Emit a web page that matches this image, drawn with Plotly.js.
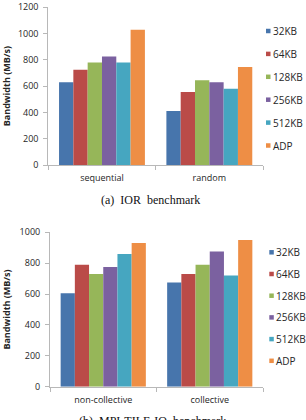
<!DOCTYPE html>
<html>
<head>
<meta charset="utf-8">
<script src="https://cdn.plot.ly/plotly-3.0.1.min.js"></script>
<style>
  html, body { margin: 0; padding: 0; background: #fff; }
  #fig { width: 306px; height: 420px; }
</style>
</head>
<body>
<div id="fig"></div>
<script>
// Block-size series shared by both benchmarks
const seriesNames = ['32KB', '64KB', '128KB', '256KB', '512KB', 'ADP'];
const seriesColors = ['#4775AC', '#BA4B48', '#96B659', '#7B61A0', '#46A6C0', '#EE8E45'];

// (a) IOR benchmark, bandwidth in MB/s
const iorCategories = ['sequential', 'random'];
const ior32KB  = [630, 410];
const ior64KB  = [725, 555];
const ior128KB = [780, 645];
const ior256KB = [825, 630];
const ior512KB = [780, 580];
const iorADP   = [1030, 745];
const iorTicks = [0, 200, 400, 600, 800, 1000, 1200];

// (b) MPI-TILE-IO benchmark, bandwidth in MB/s
const tileCategories = ['non-collective', 'collective'];
const tile32KB  = [605, 675];
const tile64KB  = [790, 730];
const tile128KB = [730, 790];
const tile256KB = [775, 875];
const tile512KB = [860, 720];
const tileADP   = [930, 950];
const tileTicks = [0, 200, 400, 600, 800, 1000];

const W = 306, H = 420;
const px = v => v / W;          // pixel column -> paper x
const py = v => 1 - v / H;      // pixel row -> paper y

const iorSeries = [ior32KB, ior64KB, ior128KB, ior256KB, ior512KB, iorADP];
const tileSeries = [tile32KB, tile64KB, tile128KB, tile256KB, tile512KB, tileADP];

const traces = [];
seriesNames.forEach((name, i) => {
  traces.push({
    type: 'bar', name: name, x: iorCategories, y: iorSeries[i],
    xaxis: 'x', yaxis: 'y', marker: { color: seriesColors[i] },
    showlegend: false, hoverinfo: 'skip'
  });
  traces.push({
    type: 'bar', name: name, x: tileCategories, y: tileSeries[i],
    xaxis: 'x2', yaxis: 'y2', marker: { color: seriesColors[i] },
    showlegend: false, hoverinfo: 'skip'
  });
});

const axisGrey = '#b8b8b8';
const textColor = '#262626';
const tickFont = { family: 'Open Sans', size: 9, color: textColor };

function xAxis(domain, anchor, cats) {
  return {
    domain: domain, anchor: anchor, type: 'category',
    categoryarray: cats, range: [-0.5, cats.length - 0.5],
    showline: true, linecolor: axisGrey, linewidth: 1,
    ticks: 'outside', tickson: 'boundaries', ticklen: 4, tickcolor: axisGrey,
    ticklabelstandoff: 4,
    showgrid: false, zeroline: false, tickfont: tickFont, fixedrange: true
  };
}
function yAxis(domain, anchor, ticks) {
  return {
    domain: domain, anchor: anchor,
    range: [ticks[0], ticks[ticks.length - 1]],
    tickmode: 'array', tickvals: ticks, ticktext: ticks.map(String),
    showline: true, linecolor: axisGrey, linewidth: 1,
    ticks: 'outside', ticklen: 4, tickcolor: axisGrey,
    ticklabelstandoff: 3,
    showgrid: false, zeroline: false, tickfont: tickFont, fixedrange: true,
    title: { text: '<b>Bandwidth (MB/s)</b>', standoff: 14,
             font: { family: 'Open Sans', size: 9, color: textColor } }
  };
}

// Legend keys and captions drawn in paper space
const shapes = [];
const annotations = [];
function legendBlock(keyLeft, textLeft, firstRow, step) {
  seriesNames.forEach((name, i) => {
    const cy = firstRow + i * step;
    shapes.push({
      type: 'rect', xref: 'paper', yref: 'paper',
      x0: px(keyLeft), x1: px(keyLeft + 4.5), y0: py(cy + 2.25), y1: py(cy - 2.25),
      fillcolor: seriesColors[i], line: { width: 0 }
    });
    annotations.push({
      xref: 'paper', yref: 'paper', x: px(textLeft), y: py(cy),
      xanchor: 'left', yanchor: 'middle', showarrow: false,
      text: name, font: { family: 'Open Sans', size: 10, color: textColor }
    });
  });
}
legendBlock(266, 270.5, 31, 22.9);
legendBlock(269.3, 274, 252.3, 21.7);

const captionFont = { family: 'Liberation Serif', size: 12, color: '#111' };
annotations.push({
  xref: 'paper', yref: 'paper', x: px(150), y: py(200), xanchor: 'center', yanchor: 'middle',
  showarrow: false, text: '(a)&nbsp;&nbsp;IOR&nbsp;&nbsp;benchmark', font: captionFont
});
annotations.push({
  xref: 'paper', yref: 'paper', x: px(152), y: py(412), xanchor: 'center', yanchor: 'top',
  showarrow: false, text: '(b)&nbsp;&nbsp;MPI-TILE-IO&nbsp;&nbsp;benchmark', font: captionFont
});

const layout = {
  width: W, height: H,
  margin: { l: 0, r: 0, t: 0, b: 0 },
  paper_bgcolor: '#ffffff', plot_bgcolor: '#ffffff',
  barmode: 'group', bargap: 0.2, bargroupgap: 0,
  showlegend: false,
  xaxis: xAxis([px(48.3), px(263)], 'y', iorCategories),
  yaxis: yAxis([py(165), py(7.3)], 'x', iorTicks),
  xaxis2: xAxis([px(50), px(263)], 'y2', tileCategories),
  yaxis2: yAxis([py(386.7), py(232.3)], 'x2', tileTicks),
  shapes: shapes,
  annotations: annotations
};

Plotly.newPlot('fig', traces, layout, { staticPlot: true, displayModeBar: false });
</script>
</body>
</html>
